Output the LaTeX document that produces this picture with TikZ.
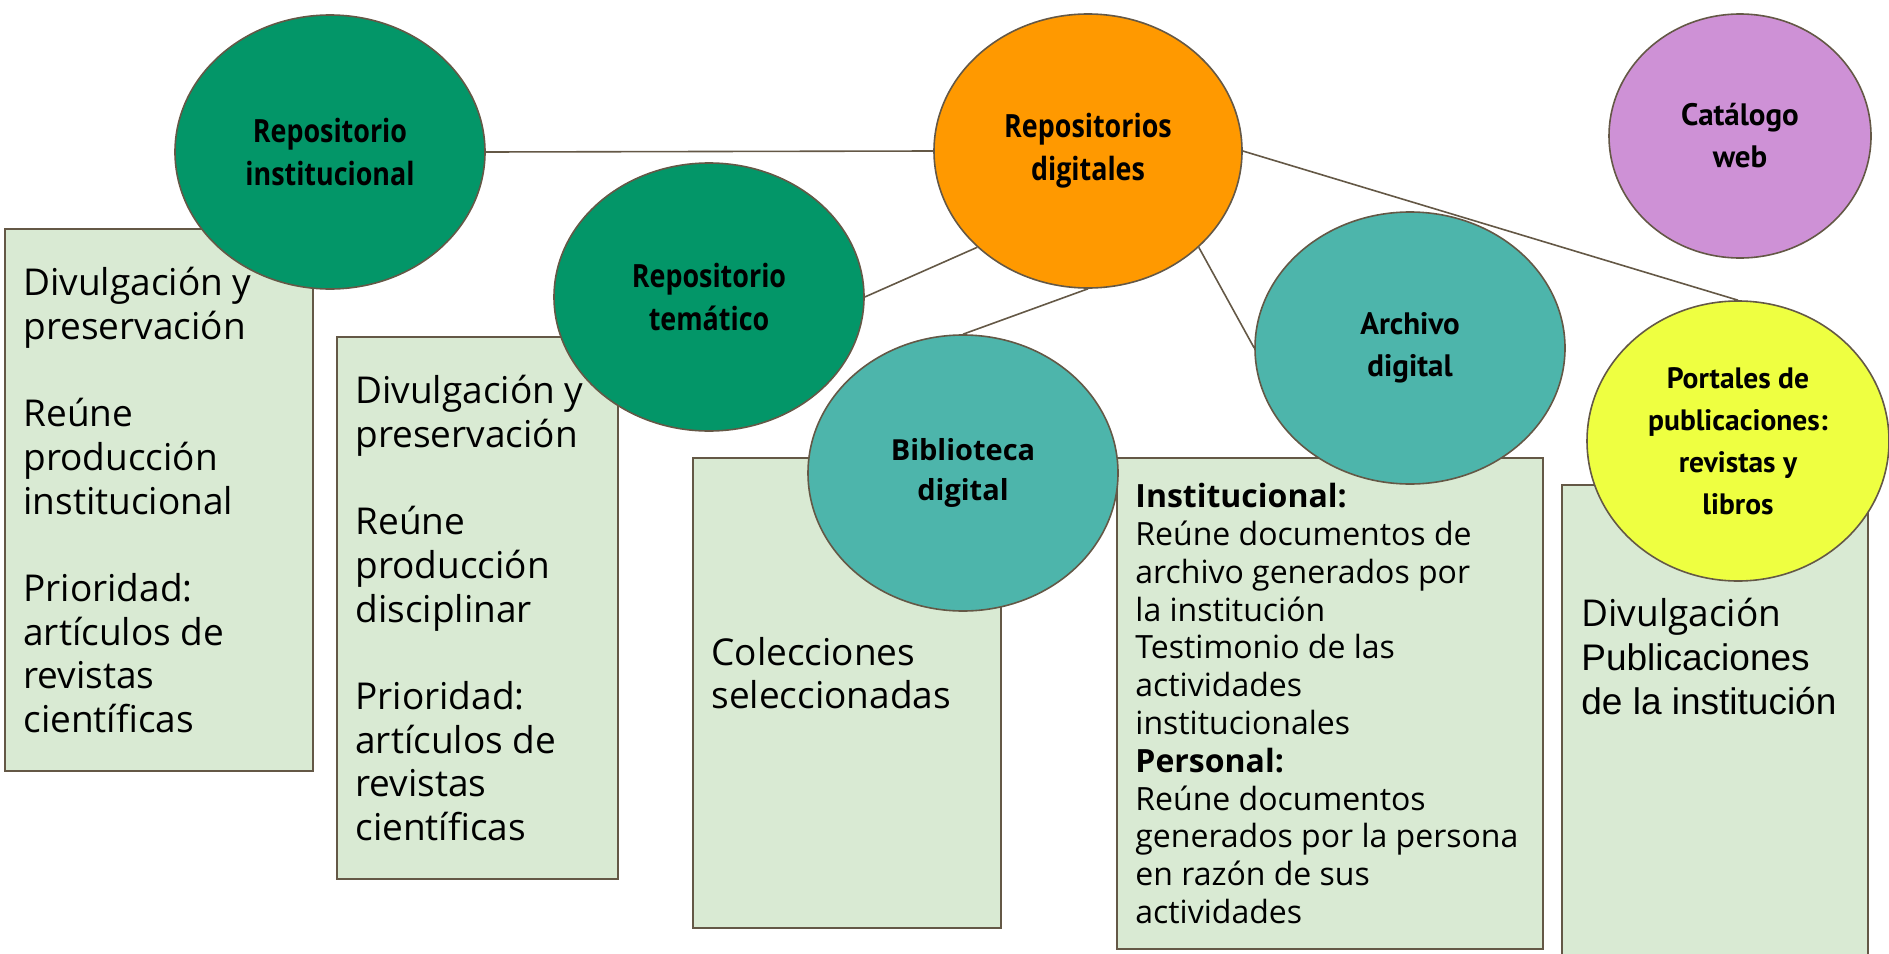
\documentclass[tikz,border=0pt]{standalone}
\usepackage{fontspec}
\setmainfont{Open Sans}
\newfontfamily\condfont[FakeStretch=0.84]{Open Sans}
\newfontfamily\ptfont{PT Sans}
\newfontfamily\arialfont{Liberation Sans}
\usetikzlibrary{shapes.geometric}
\definecolor{edge}{RGB}{100,88,70}
\definecolor{repgreen}{RGB}{3,150,104}
\definecolor{reporange}{RGB}{255,153,0}
\definecolor{repteal}{RGB}{77,181,171}
\definecolor{reppurple}{RGB}{206,145,214}
\definecolor{repyellow}{RGB}{238,255,65}
\definecolor{boxfill}{RGB}{217,234,211}
\tikzset{
  boxst/.style={draw=edge, line width=1.6pt, fill=boxfill, rectangle, inner sep=0pt},
  ell/.style={draw=edge, line width=1.6pt, ellipse, inner sep=0pt, align=center, text=black},
  conn/.style={draw=edge, line width=1.6pt},
  boxtext/.style={anchor=west, align=left, inner sep=0pt, text=black, font=\fontsize{37}{43.7}\selectfont},
  condlab/.style={font=\condfont\bfseries\fontsize{32}{43}\selectfont},
  ptlab/.style={font=\ptfont\bfseries\fontsize{31}{42}\selectfont},
}
\begin{document}
\begin{tikzpicture}[x=1pt,y=-1pt]
\useasboundingbox (0,0) rectangle (1889,953);
% boxes
\node[boxst, minimum width=308pt, minimum height=542pt] (b1) at (159,500) {};
\node[boxst, minimum width=281pt, minimum height=542pt] (b2) at (477.5,608) {};
\node[boxst, minimum width=308pt, minimum height=470pt] (b3) at (847,693) {};
\node[boxst, minimum width=426pt, minimum height=491pt] (b4) at (1330,703.5) {};
\node[boxst, minimum width=306pt, minimum height=500pt] (b5) at (1715,735) {};
% box texts
\node[boxtext] (t1) at ([xshift=19pt]b1.west) {Divulgación y\\preservación\\[43.7pt]Reúne\\producción\\institucional\\[43.7pt]Prioridad:\\artículos de\\revistas\\científicas};
\node[boxtext] (t2) at ([xshift=19pt]b2.west) {Divulgación y\\preservación\\[43.7pt]Reúne\\producción\\disciplinar\\[43.7pt]Prioridad:\\artículos de\\revistas\\científicas};
\node[boxtext] (t3) at ([xshift=19pt,yshift=20pt]b3.west) {Colecciones\\seleccionadas};
\node[boxtext, font=\fontsize{32}{37.8}\selectfont] (t4) at ([xshift=19pt]b4.west) {\textbf{Institucional:}\\Reúne documentos de\\archivo generados por\\la institución\\Testimonio de las\\actividades\\institucionales\\\textbf{Personal:}\\Reúne documentos\\generados por la persona\\en razón de sus\\actividades};
\node[boxtext, anchor=north west] (t5) at ([xshift=20pt,yshift=-114pt]b5.north west) {Divulgación\\{\arialfont Publicaciones}\\{\arialfont de la institución}};
% ellipses
\node[ell, condlab, fill=repgreen, minimum width=310pt, minimum height=274pt] (RI) at (330,152) {Repositorio\\institucional};
\node[ell, condlab, fill=repgreen, minimum width=310pt, minimum height=268pt] (RT) at (709,297) {Repositorio\\temático};
\node[ell, condlab, fill=reporange, minimum width=308pt, minimum height=274pt] (RD) at (1088,151) {Repositorios\\digitales};
\node[ell, fill=repteal, minimum width=310pt, minimum height=276pt, font=\bfseries\fontsize{29}{40}\selectfont] (BD) at (963,473) {Biblioteca\\digital};
\node[ell, ptlab, fill=repteal, minimum width=310pt, minimum height=272pt] (AD) at (1410,348) {Archivo\\digital};
\node[ell, ptlab, fill=reppurple, minimum width=262pt, minimum height=244pt] (CW) at (1740,136) {Catálogo\\web};
\node[ell, ptlab, font=\ptfont\bfseries\fontsize{29.5}{42}\selectfont, fill=repyellow, minimum width=302pt, minimum height=280pt] (PO) at (1738,441) {Portales de\\publicaciones:\\revistas y\\libros};
% connectors
\draw[conn] (RI.east) -- (RD.west);
\draw[conn] (RT.east) -- (RD.221);
\draw[conn] (BD.north) -- (RD.south);
\draw[conn] (RD.-41) -- (AD.west);
\draw[conn] (RD.east) -- (PO.north);
\end{tikzpicture}
\end{document}
